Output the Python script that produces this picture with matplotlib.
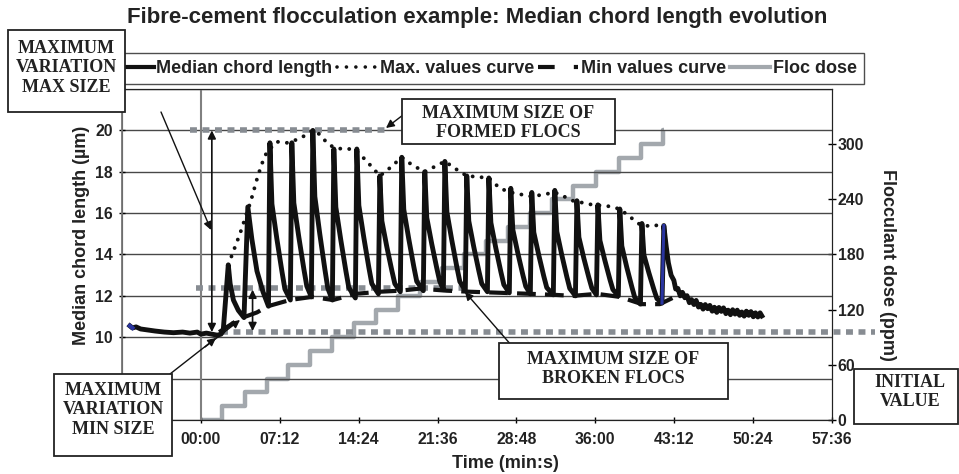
import matplotlib
matplotlib.use('Agg')
import matplotlib.pyplot as plt
from matplotlib.lines import Line2D
from matplotlib.patches import Rectangle, FancyArrowPatch
from matplotlib.ticker import FuncFormatter

plt.rcParams['font.family'] = ['Liberation Sans', 'DejaVu Sans']

# ---------------- data (time in seconds) ----------------
median_t = [-389, -375, -355, -330, -290, -250, -200, -150, -100, -60, -20, 0, 30, 60, 90, 110, 122,
            150, 160, 178, 205, 236,
            257, 279, 307, 340, 361, 370,
            378, 389, 416, 444, 460, 490,
            498, 509, 536, 564, 580, 605,
            613, 624, 651, 679, 695, 720,
            728, 739, 766, 794, 810, 846,
            854, 865, 892, 920, 936, 972,
            980, 991, 1018, 1046, 1062, 1092,
            1100, 1111, 1138, 1166, 1182, 1218,
            1226, 1237, 1264, 1292, 1308, 1328,
            1336, 1347, 1374, 1402, 1418, 1448,
            1456, 1467, 1494, 1522, 1538, 1569,
            1577, 1588, 1615, 1643, 1659, 1689,
            1697, 1708, 1735, 1763, 1779, 1804,
            1812, 1823, 1850, 1878, 1894, 1930,
            1938, 1949, 1976, 2004, 2020, 2051,
            2059, 2070, 2097, 2125, 2141, 2166,
            2174, 2185, 2212, 2240, 2256, 2286,
            2294, 2305, 2332, 2360, 2376, 2407,
            2415, 2426, 2453, 2481, 2497, 2525,
            2535, 2548, 2560, 2575,
            2590, 2600, 2612, 2625, 2637, 2650, 2662, 2675, 2687, 2700, 2712, 2725, 2737, 2750,
            2762, 2775, 2787, 2800, 2812, 2825, 2837, 2850, 2862, 2875, 2887, 2900, 2912, 2925,
            2937, 2950, 2962, 2975, 2987, 3000, 3012, 3025, 3037, 3050, 3062, 3072]
median_v = [10.55, 10.45, 10.5, 10.4, 10.35, 10.3, 10.25, 10.22, 10.25, 10.2, 10.25, 10.15, 10.2, 10.15, 10.1, 10.15, 10.3,
            13.5, 12.6, 11.8, 11.3, 10.95,
            16.3, 14.75, 13.2, 12.2, 11.7, 11.5,
            19.4, 16.44, 14.76, 13.17, 12.33, 11.8,
            19.4, 16.49, 14.86, 13.29, 12.47, 11.95,
            20.0, 16.8, 15.0, 13.28, 12.37, 11.8,
            19.1, 16.29, 14.71, 13.2, 12.4, 11.9,
            19.1, 16.37, 14.83, 13.36, 12.59, 12.1,
            17.8, 15.62, 14.38, 13.21, 12.59, 12.2,
            18.7, 16.18, 14.77, 13.41, 12.7, 12.25,
            18.0, 15.78, 14.52, 13.33, 12.7, 12.3,
            18.5, 16.06, 14.69, 13.38, 12.69, 12.25,
            17.8, 15.62, 14.38, 13.21, 12.59, 12.2,
            17.7, 15.54, 14.31, 13.15, 12.54, 12.15,
            17.2, 15.21, 14.09, 13.02, 12.46, 12.1,
            17.0, 15.07, 13.98, 12.94, 12.4, 12.05,
            17.1, 15.11, 13.99, 12.92, 12.36, 12.0,
            16.6, 14.83, 13.82, 12.87, 12.37, 12.05,
            16.4, 14.68, 13.72, 12.79, 12.31, 12.0,
            16.2, 14.41, 13.39, 12.43, 11.92, 11.6,
            15.5, 13.98, 13.12, 12.3, 11.87, 11.65,
            15.4, 14.4, 13.6, 13.0,
            12.75, 12.33, 12.36, 12.0, 12.17, 11.91, 12.01, 11.67, 11.82, 11.58, 11.78, 11.46, 11.59, 11.36,
            11.58, 11.38, 11.54, 11.26, 11.45, 11.2, 11.44, 11.25, 11.42, 11.14, 11.31, 11.09, 11.33, 11.12,
            11.31, 11.06, 11.22, 11.02, 11.26, 11.06, 11.24, 10.99, 11.18, 10.98, 11.18, 11.03]

max_t = [150, 214, 274, 312, 339, 361, 416, 471, 542, 613, 652, 690, 723, 772, 827, 854, 909,
         980, 1024, 1100, 1161, 1226, 1336, 1402, 1456, 1577, 1637, 1697, 1812, 1938, 1966,
         2037, 2146, 2223, 2294, 2338, 2404, 2469, 2535]
max_v = [13.5, 15.0, 16.6, 17.8, 18.5, 18.95, 19.45, 19.4, 19.6, 20.0, 19.8, 19.4, 19.2, 19.1, 19.1, 19.0, 18.5,
         17.8, 18.1, 18.7, 18.3, 18.0, 18.5, 18.1, 17.8, 17.7, 17.2, 17.0, 16.8, 17.0, 16.9,
         16.6, 16.4, 16.35, 16.2, 15.9, 15.45, 15.35, 15.5]

min_t = [100, 214, 307, 367, 487, 608, 723, 849, 980, 1090, 1199, 1347, 1473, 1637, 1801, 1938,
         2037, 2168, 2294, 2415, 2513, 2595]
min_v = [10.25, 10.9, 11.2, 11.5, 11.8, 11.95, 11.8, 12.1, 12.2, 12.25, 12.35, 12.25, 12.2, 12.15, 12.1, 12.05,
         12.0, 12.1, 11.95, 11.6, 11.6, 11.95]

dose_t = [0, 118, 240, 360, 478, 598, 720, 840, 960, 1080, 1200, 1320, 1440, 1560, 1680, 1800,
          1920, 2040, 2165, 2290, 2410, 2530, 2536]
dose_v = [0, 15, 30, 45, 60, 75, 90, 105, 120, 135, 150, 165, 180, 195, 210, 225,
          240, 255, 270, 285, 300, 315, 315]

# reference levels (value, start time, end time)
ref_formed = (20.0, -60, 1024)
ref_broken = (12.4, -27, 1430)
ref_initial = (10.25, 110, 3690)

x_ticks = [0, 432, 864, 1296, 1728, 2160, 2592, 3024, 3456]
left_ticks = [6, 8, 10, 12, 14, 16, 18, 20, 22]
left_labels = ['', '', '10', '12', '14', '16', '18', '20', '']
right_ticks = [0, 60, 120, 180, 240, 300]

# ---------------- figure ----------------
W, H = 959, 474
fig = plt.figure(figsize=(W / 100, H / 100), dpi=100)


def fx(x):
    return x / W


def fy(y):
    return 1 - y / H


ax = fig.add_axes([fx(122), fy(420), (832 - 122) / W, (420 - 89) / H])
ax2 = ax.twinx()
ax.set_zorder(ax2.get_zorder() + 1)
ax.patch.set_visible(False)

ax.set_xlim(-432, 3456)
ax.set_ylim(6, 22)
ax2.set_ylim(0, 360)

TXT = '#222222'
GRID = '#484848'
for s in ['left', 'right', 'top', 'bottom']:
    ax.spines[s].set_color(TXT)
    ax2.spines[s].set_color(TXT)
ax.spines['left'].set_color('#777777')
ax.spines['left'].set_linewidth(1.3)

ax.set_yticks(left_ticks)
ax.set_yticklabels(left_labels)
ax.yaxis.grid(True, color=GRID, lw=1.0)
ax.set_axisbelow(True)
ax.set_xticks(x_ticks)
ax.xaxis.set_major_formatter(FuncFormatter(lambda t, p: f"{int(t // 60):02d}:{int(t % 60):02d}"))
ax2.set_yticks(right_ticks)

for lab in ax.get_xticklabels() + ax.get_yticklabels() + ax2.get_yticklabels():
    lab.set_fontsize(11.3)
    lab.set_fontweight('bold')
    lab.set_color(TXT)
ax.tick_params(axis='x', direction='inout', length=5, pad=6, width=1)
ax.tick_params(axis='y', direction='inout', length=5, pad=4, width=1)
ax2.tick_params(axis='y', direction='inout', length=6, pad=1, width=1)

# vertical line at 00:00
ax.axvline(0, color='#808080', lw=1.5, zorder=1)

# series
DOT_GREY = '#878c92'
FLOC_GREY = '#a3a8ad'
ax2.plot(dose_t, dose_v, drawstyle='steps-post', color=FLOC_GREY, lw=3.2, solid_capstyle='butt')

for lvl, t0, t1 in [ref_formed, ref_broken]:
    ax.plot([t0, t1], [lvl, lvl], color=DOT_GREY, lw=4, linestyle=(0, (1.25, 1.0)), zorder=2)
ax.plot([ref_initial[1], ref_initial[2]], [ref_initial[0]] * 2, color=DOT_GREY, lw=4,
        linestyle=(0, (1.25, 1.0)), zorder=2, clip_on=False)

ax.plot(min_t, min_v, color='#111111', lw=3, linestyle=(0, (4.5, 2.2)), zorder=3)
ax.plot(max_t, max_v, color='#111111', lw=2.8, linestyle=(0, (0.01, 2.3)), dash_capstyle='round', zorder=3)
ax.plot(median_t, median_v, color='#111111', lw=3.5, zorder=4)
# highlighted (blue) segments
ax.plot(median_t[:2], median_v[:2], color='#2a35a0', lw=3.0, zorder=5)
i_last = median_t.index(2535)
ax.plot(median_t[i_last - 1:i_last + 1], median_v[i_last - 1:i_last + 1], color='#2a35a0', lw=2.2, zorder=5)

# axis labels
ax.set_ylabel('Median chord length (µm)', fontsize=13, fontweight='bold', color=TXT, va='center')
ax.yaxis.set_label_coords(-(122 - 81) / 710, 0.559)
ax2.set_ylabel('Flocculant dose (ppm)', fontsize=13, fontweight='bold', color=TXT, rotation=270,
               va='center')
ax2.yaxis.set_label_coords(1 + (888 - 832) / 710, 0.467)
fig.text(fx(505), fy(464), 'Time (min:s)', ha='center', va='center', fontsize=13, fontweight='bold',
         color=TXT)

# title
fig.text(fx(477), fy(17), 'Fibre-cement flocculation example: Median chord length evolution',
         ha='center', va='center', fontsize=16, fontweight='bold', color=TXT)

# legend
handles = [Line2D([], [], color='#111111', lw=3),
           Line2D([], [], color='#111111', lw=2.6, linestyle=(0, (0.01, 2.6)), dash_capstyle='round'),
           Line2D([], [], color='#111111', lw=3, linestyle=(0, (4.0, 4.6))),
           Line2D([], [], color=FLOC_GREY, lw=3)]
labels = ['Median chord length', 'Max. values curve', 'Min values curve', 'Floc dose']
leg = fig.legend(handles, labels, loc='upper right', bbox_to_anchor=(fx(864), fy(53)), ncol=4,
                 prop=dict(weight='bold', size=13), frameon=True, fancybox=False, edgecolor=TXT,
                 handlelength=2.2, handletextpad=0.15, columnspacing=0.25, borderpad=0.4,
                 borderaxespad=0)
leg.get_frame().set_linewidth(1.0)
for t in leg.get_texts():
    t.set_color(TXT)

# annotation boxes (pixel coordinates of the picture)
serif = ['Liberation Serif', 'DejaVu Serif']


def box(x0, y0, x1, y1, text, tx, ty):
    r = Rectangle((fx(x0), fy(y1)), (x1 - x0) / W, (y1 - y0) / H, transform=fig.transFigure,
                  facecolor='white', edgecolor=TXT, lw=1.3, zorder=20)
    fig.add_artist(r)
    fig.text(fx(tx), fy(ty), text, ha='center', va='center', family=serif, fontweight='bold',
             fontsize=13, color=TXT, linespacing=1.2, zorder=21)


def arrow(x0, y0, x1, y1):
    a = FancyArrowPatch((fx(x0), fy(y0)), (fx(x1), fy(y1)), transform=fig.transFigure,
                        arrowstyle='-|>', mutation_scale=12, color='#111111', lw=1.0,
                        shrinkA=0, shrinkB=0, zorder=19)
    fig.add_artist(a)


box(8, 30, 125, 112, 'MAXIMUM\nVARIATION\nMAX SIZE', 66.5, 68)
box(402, 99, 615, 144, 'MAXIMUM SIZE OF\nFORMED FLOCS', 508.5, 123)
box(499, 343, 728, 399, 'MAXIMUM SIZE OF\nBROKEN FLOCS', 613.5, 369)
box(854, 369, 958, 424, 'INITIAL\nVALUE', 910, 392)
box(54, 374, 172, 456, 'MAXIMUM\nVARIATION\nMIN SIZE', 113, 410)

arrow(161, 112, 211, 230)
arrow(403, 115, 386, 128)
arrow(512, 346, 465, 292)
arrow(170, 374, 216, 338)
arrow(205, 347, 240, 320)

# double arrows (data coordinates)
for xt, y0, y1 in [(60, ref_initial[0], ref_formed[0]), (283, 10.3, 12.3)]:
    ax.annotate('', xy=(xt, y1), xytext=(xt, y0),
                arrowprops=dict(arrowstyle='<|-|>', color='#111111', lw=1.2, mutation_scale=12,
                                shrinkA=0, shrinkB=0), zorder=6)

fig.savefig('out.png', dpi=100)
